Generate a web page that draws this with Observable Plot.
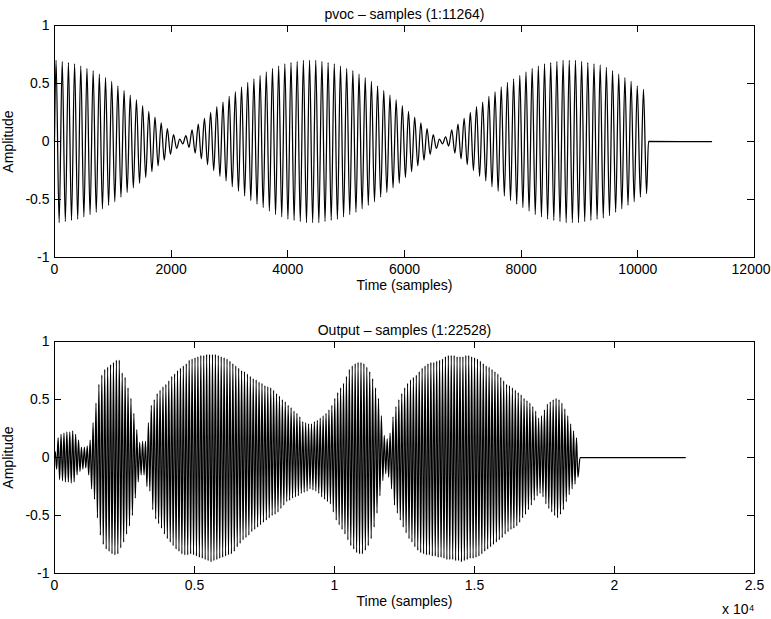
<!DOCTYPE html>
<html><head><meta charset="utf-8">
<script src="https://cdn.jsdelivr.net/npm/d3@7"></script>
<script src="https://cdn.jsdelivr.net/npm/@observablehq/plot@0.6"></script>
<style>
html,body{margin:0;padding:0;background:#fff;}
#chart{width:771px;height:619px;}
#chart svg{display:block;}
#chart svg line, #chart svg rect{shape-rendering:crispEdges;}
</style></head><body><div id="chart"></div>
<script>
// ---- Data ----
const topTitle = "pvoc – samples (1:11264)";
const bottomTitle = "Output – samples (1:22528)";
const xLabel = "Time (samples)";
const yLabel = "Amplitude";
const exponentLabel = "x 10⁴";

const yTicks = [-1, -0.5, 0, 0.5, 1];
const topXTicks = [0, 2000, 4000, 6000, 8000, 10000, 12000];
const bottomXTicks = [0, 5000, 10000, 15000, 20000, 25000];
const bottomXTickLabels = ["0", "0.5", "1", "1.5", "2", "2.5"];

// top panel: carrier period (samples), end of sound, total length
const topPeriod = 106;
const topSignalEnd = 10183;
const topLength = 11264;
// peak amplitude of each carrier cycle (symmetric about 0)
const topAmp = [
  0.70,0.69,0.68,0.67,0.65,0.63,0.61,0.58,0.55,0.52,
  0.48,0.44,0.40,0.36,0.31,0.26,0.21,0.16,0.11,0.06,
  0.02,0.05,0.10,0.15,0.20,0.25,0.30,0.34,0.39,0.43,
  0.47,0.51,0.54,0.57,0.60,0.63,0.65,0.67,0.68,0.69,
  0.70,0.70,0.70,0.69,0.68,0.67,0.65,0.63,0.61,0.58,
  0.55,0.52,0.48,0.44,0.40,0.36,0.31,0.26,0.21,0.16,
  0.11,0.06,0.02,0.04,0.10,0.15,0.20,0.25,0.30,0.34,
  0.39,0.43,0.47,0.51,0.54,0.57,0.60,0.63,0.65,0.67,
  0.68,0.69,0.70,0.70,0.70,0.69,0.68,0.67,0.66,0.64,
  0.61,0.58,0.55,0.52,0.48,0.45
];

// bottom panel
const bottomPeriod = 104;
const bottomSignalEnd = 18770;
const bottomLength = 22528;
const bottomUpper = [
  0.05,0.17,0.20,0.21,0.22,0.22,0.23,0.20,0.15,0.09,
  0.09,0.10,0.15,0.30,0.47,0.63,0.71,0.76,0.78,0.80,
  0.82,0.84,0.84,0.73,0.69,0.60,0.51,0.38,0.24,0.13,
  0.14,0.14,0.30,0.45,0.50,0.55,0.58,0.61,0.63,0.66,
  0.70,0.72,0.75,0.77,0.79,0.81,0.84,0.85,0.86,0.87,
  0.88,0.88,0.89,0.89,0.89,0.89,0.88,0.87,0.86,0.85,
  0.83,0.81,0.79,0.77,0.75,0.74,0.72,0.70,0.68,0.67,
  0.65,0.64,0.62,0.61,0.60,0.58,0.55,0.53,0.50,0.48,
  0.45,0.43,0.40,0.38,0.35,0.31,0.30,0.29,0.29,0.31,
  0.32,0.34,0.36,0.38,0.41,0.45,0.51,0.56,0.60,0.64,
  0.70,0.76,0.79,0.81,0.82,0.82,0.81,0.78,0.74,0.68,
  0.60,0.51,0.36,0.19,0.16,0.21,0.35,0.44,0.50,0.55,
  0.60,0.64,0.67,0.69,0.71,0.74,0.77,0.79,0.81,0.82,
  0.82,0.83,0.84,0.85,0.87,0.88,0.88,0.88,0.87,0.87,
  0.87,0.88,0.88,0.87,0.86,0.85,0.83,0.81,0.79,0.78,
  0.76,0.74,0.72,0.69,0.66,0.63,0.62,0.60,0.58,0.56,
  0.54,0.51,0.49,0.47,0.44,0.40,0.34,0.36,0.41,0.46,
  0.48,0.50,0.51,0.50,0.47,0.42,0.36,0.29,0.23,0.17
];
const bottomLower = [
  -0.10,-0.19,-0.20,-0.21,-0.21,-0.22,-0.21,-0.15,-0.12,-0.10,
  -0.09,-0.15,-0.27,-0.36,-0.52,-0.67,-0.75,-0.79,-0.81,-0.83,
  -0.84,-0.83,-0.78,-0.73,-0.66,-0.59,-0.50,-0.35,-0.21,-0.15,
  -0.15,-0.25,-0.29,-0.45,-0.53,-0.57,-0.61,-0.66,-0.70,-0.73,
  -0.76,-0.79,-0.81,-0.83,-0.84,-0.84,-0.83,-0.84,-0.85,-0.86,
  -0.87,-0.88,-0.89,-0.90,-0.89,-0.88,-0.87,-0.86,-0.85,-0.84,
  -0.83,-0.81,-0.77,-0.74,-0.71,-0.69,-0.67,-0.64,-0.62,-0.60,
  -0.58,-0.56,-0.54,-0.52,-0.50,-0.49,-0.47,-0.44,-0.41,-0.38,
  -0.37,-0.35,-0.34,-0.33,-0.31,-0.30,-0.29,-0.27,-0.28,-0.29,
  -0.31,-0.34,-0.36,-0.38,-0.40,-0.47,-0.54,-0.58,-0.62,-0.66,
  -0.71,-0.76,-0.79,-0.82,-0.83,-0.83,-0.80,-0.76,-0.70,-0.60,
  -0.48,-0.33,-0.20,-0.14,-0.17,-0.27,-0.41,-0.48,-0.54,-0.60,
  -0.65,-0.70,-0.73,-0.77,-0.80,-0.82,-0.83,-0.84,-0.84,-0.85,
  -0.85,-0.86,-0.86,-0.87,-0.88,-0.88,-0.88,-0.89,-0.89,-0.90,
  -0.89,-0.88,-0.87,-0.87,-0.86,-0.85,-0.83,-0.81,-0.79,-0.77,
  -0.75,-0.73,-0.71,-0.69,-0.66,-0.64,-0.62,-0.61,-0.59,-0.56,
  -0.52,-0.49,-0.45,-0.41,-0.37,-0.33,-0.31,-0.34,-0.40,-0.44,
  -0.47,-0.50,-0.52,-0.49,-0.45,-0.38,-0.32,-0.27,-0.23,-0.17
];

// ---- Build tables ----
function waveRows(upper, lower, period, signalEnd, totalLength) {
  const rows = [{t: 0, a: 0}];
  upper.forEach((u, k) => {
    rows.push({t: k * period + period / 4, a: u});
    rows.push({t: k * period + 3 * period / 4, a: lower[k]});
  });
  rows.push({t: signalEnd, a: 0});
  rows.push({t: totalLength, a: 0});
  return rows;
}
const topRows = waveRows(topAmp, topAmp.map(v => -v), topPeriod, topSignalEnd, topLength);
const bottomRows = waveRows(bottomUpper, bottomLower, bottomPeriod, bottomSignalEnd, bottomLength);

const FONT = "'Liberation Sans', Arial, Helvetica, sans-serif";
const FS = 14;
const TICK_PAD = 7;

function panel({rows, xDomain, xTicks, xTickFormat, title, height, marginTop, marginBottom, extra = []}) {
  const frameW = 771 - 54 - 17;
  const frameH = height - marginTop - marginBottom;
  const tick = 7;
  return Plot.plot({
    width: 771, height,
    marginLeft: 54, marginRight: 17, marginTop, marginBottom,
    x: {domain: xDomain},
    y: {domain: [-1, 1]},
    style: {fontFamily: FONT, fontSize: FS + "px", color: "black", background: "white", overflow: "visible"},
    marks: [
      Plot.line(rows, {x: "t", y: "a", stroke: "black", strokeWidth: 1.25, curve: "monotone-x"}),
      Plot.frame({stroke: "black"}),
      Plot.tickX(xTicks, {x: d => d, stroke: "black", insetTop: frameH - tick}),
      Plot.tickX(xTicks, {x: d => d, stroke: "black", insetBottom: frameH - tick}),
      Plot.tickY(yTicks, {y: d => d, stroke: "black", insetRight: frameW - tick}),
      Plot.tickY(yTicks, {y: d => d, stroke: "black", insetLeft: frameW - tick}),
      Plot.axisY(yTicks, {tickSize: 0, tickPadding: 5, tickFormat: d => String(d), label: null, fontSize: FS}),
      Plot.text([title], {text: d => d, frameAnchor: "top", textAnchor: "middle", dy: -16, fontSize: FS}),
      Plot.text([xLabel], {text: d => d, frameAnchor: "bottom", textAnchor: "middle", dy: 32, fontSize: FS}),
      Plot.text([yLabel], {text: d => d, frameAnchor: "left", textAnchor: "middle", rotate: -90, dx: -46, fontSize: FS}),
      ...extra
    ]
  });
}

const chart = document.getElementById("chart");
// top panel: the last tick label sits at the page edge, so it is right-aligned to stay inside
const topInner = topXTicks.slice(0, -1);
const topLast = topXTicks.slice(-1);
chart.appendChild(panel({
  rows: topRows, xDomain: [0, 12000], xTicks: topXTicks,
  title: topTitle, height: 316, marginTop: 25, marginBottom: 59,
  extra: [
    Plot.axisX(topInner, {tickSize: 0, tickPadding: TICK_PAD, tickFormat: d => String(d), label: null, fontSize: FS}),
    Plot.text(topLast, {x: d => d, text: d => String(d), frameAnchor: "bottom", lineAnchor: "top",
      textAnchor: "end", dx: 16, dy: TICK_PAD, fontSize: FS})
  ]
}));
chart.appendChild(panel({
  rows: bottomRows, xDomain: [0, 25000], xTicks: bottomXTicks,
  title: bottomTitle, height: 303, marginTop: 25, marginBottom: 46,
  extra: [
    Plot.axisX(bottomXTicks, {tickSize: 0, tickPadding: TICK_PAD,
      tickFormat: d => bottomXTickLabels[bottomXTicks.indexOf(d)], label: null, fontSize: FS}),
    Plot.text([exponentLabel], {text: d => d, frameAnchor: "bottom-right", textAnchor: "end", dy: 40, fontSize: FS})
  ]
}));
</script></body></html>
